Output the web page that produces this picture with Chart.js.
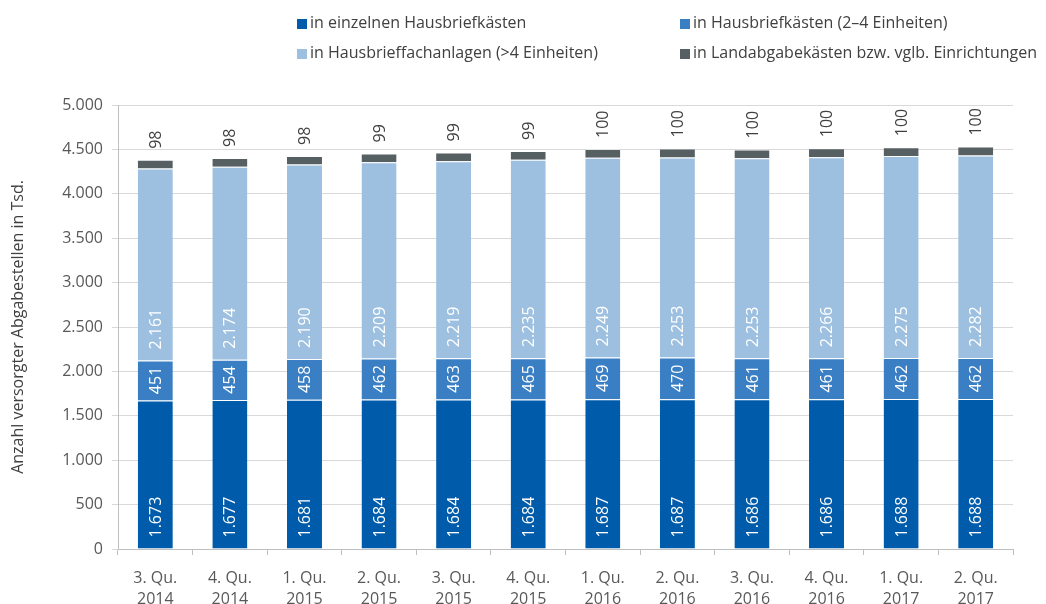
<!DOCTYPE html>
<html><head><meta charset="utf-8">
<script src="https://cdn.jsdelivr.net/npm/chart.js@4.4.1/dist/chart.umd.min.js"></script>
<style>
html,body{margin:0;padding:0;background:#fff;}
#wrap{position:relative;width:1046px;height:604px;}
canvas{position:absolute;left:0;top:0;}
.lg{position:absolute;font-family:"Open Sans",sans-serif;font-size:16px;color:#404040;white-space:nowrap;line-height:20px;}
.lg i{display:inline-block;width:10px;height:10px;margin-right:3px;vertical-align:-1px;}
</style></head>
<body><div id="wrap"><canvas id="c" width="1046" height="604"></canvas>
<div class="lg" style="left:297px;top:12px"><i style="background:#005CAB"></i>in einzelnen Hausbriefkästen</div>
<div class="lg" style="left:680px;top:12px"><i style="background:#3A7FC3"></i>in Hausbriefkästen (2–4 Einheiten)</div>
<div class="lg" style="left:297px;top:42px"><i style="background:#9DC0E1"></i>in Hausbrieffachanlagen (&gt;4 Einheiten)</div>
<div class="lg" style="left:680px;top:42px"><i style="background:#565F62"></i>in Landabgabekästen bzw. vglb. Einrichtungen</div>
</div>
<script>
const categories = [["3. Qu.","2014"],["4. Qu.","2014"],["1. Qu.","2015"],["2. Qu.","2015"],["3. Qu.","2015"],["4. Qu.","2015"],["1. Qu.","2016"],["2. Qu.","2016"],["3. Qu.","2016"],["4. Qu.","2016"],["1. Qu.","2017"],["2. Qu.","2017"]];
const einzeln = [1673,1677,1681,1684,1684,1684,1687,1687,1686,1686,1688,1688];
const klein = [451,454,458,462,463,465,469,470,461,461,462,462];
const anlagen = [2161,2174,2190,2209,2219,2235,2249,2253,2253,2266,2275,2282];
const land = [98,98,98,99,99,99,100,100,100,100,100,100];
const seriesNames = ["in einzelnen Hausbriefkästen","in Hausbriefkästen (2–4 Einheiten)","in Hausbrieffachanlagen (>4 Einheiten)","in Landabgabekästen bzw. vglb. Einrichtungen"];
const yTitle = "Anzahl versorgter Abgabestellen in Tsd.";

const FONT = '"Open Sans",sans-serif';
const fmt = v => v.toLocaleString('de-DE');

const labelPlugin = {
  id:'labels',
  afterDatasetsDraw(chart){
    const ctx = chart.ctx;
    ctx.save();
    ctx.font = '16px ' + FONT;
    ctx.textBaseline = 'middle';
    chart.data.datasets.forEach((ds, di) => {
      const meta = chart.getDatasetMeta(di);
      meta.data.forEach((bar, i) => {
        const txt = fmt(ds.data[i]);
        ctx.save();
        ctx.translate(bar.x, 0);
        ctx.rotate(-Math.PI/2);
        if (di < 3) {
          ctx.fillStyle = '#ffffff';
          if (di === 1) {
            ctx.textAlign = 'center';
            ctx.fillText(txt, -(bar.base + bar.y)/2, 1);
          } else {
            ctx.textAlign = 'left';
            ctx.fillText(txt, -(bar.base - 11), 1);
          }
        } else {
          ctx.fillStyle = '#404040';
          ctx.textAlign = 'left';
          ctx.fillText(txt, -(bar.y - 11), 1);
        }
        ctx.restore();
      });
    });
    ctx.restore();
  }
};

new Chart(document.getElementById('c'), {
  type:'bar',
  data:{
    labels: categories,
    datasets:[
      {label:seriesNames[0], data:einzeln, backgroundColor:'#005CAB'},
      {label:seriesNames[1], data:klein, backgroundColor:'#3A7FC3'},
      {label:seriesNames[2], data:anlagen, backgroundColor:'#9DC0E1'},
      {label:seriesNames[3], data:land, backgroundColor:'#565F62'}
    ].map(d => Object.assign(d, {barPercentage:0.47, categoryPercentage:1, borderWidth:{top:1}, borderColor:'rgba(255,255,255,0.35)', borderSkipped:'bottom'}))
  },
  options:{
    responsive:false,
    animation:false,
    events:[],
    layout:{padding:{top:105,right:33,left:0,bottom:0}},
    plugins:{legend:{display:false}, tooltip:{enabled:false}},
    scales:{
      x:{
        stacked:true,
        grid:{display:true, drawOnChartArea:false, offset:true, color:'#BFBFBF', tickLength:6, lineWidth:1},
        border:{color:'#BFBFBF'},
        ticks:{color:'#595959', font:{family:FONT, size:16, lineHeight:1.3}, padding:13, maxRotation:0},
        afterFit(s){ s.height = 55; }
      },
      y:{
        stacked:true, min:0, max:5000,
        ticks:{stepSize:500, color:'#595959', font:{family:FONT, size:16}, padding:9, callback:v=>fmt(v)},
        grid:{color:'#D9D9D9', tickLength:6},
        border:{color:'#BFBFBF'},
        title:{display:true, text:yTitle, color:'#404040', font:{family:FONT, size:16}, padding:{top:9,bottom:2}},
        afterFit(s){ s.width = 118; }
      }
    }
  },
  plugins:[labelPlugin]
});
</script>
</body></html>
